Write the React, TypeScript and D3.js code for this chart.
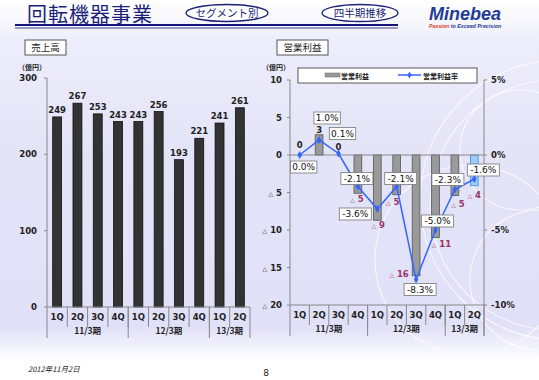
import React from "react";
import * as d3 from "d3";

const quarters = ["1Q", "2Q", "3Q", "4Q", "1Q", "2Q", "3Q", "4Q", "1Q", "2Q"];
const periods = [
  { label: "11/3期", start: 0, count: 4 },
  { label: "12/3期", start: 4, count: 4 },
  { label: "13/3期", start: 8, count: 2 },
];
const sales = [249, 267, 253, 243, 243, 256, 193, 221, 241, 261];
const salesTicks = [0, 100, 200, 300];
const opIncome = [0, 2.7, 0, -5.1, -8.7, -5.3, -16.1, -11.0, -5.4, -4.1];
const opMargin = [0.0, 1.0, 0.1, -2.1, -3.6, -2.1, -8.3, -5.0, -2.3, -1.6];
const incomeTicks = [10, 5, 0, -5, -10, -15, -20];
const marginTicks = [5, 0, -5, -10];

// label placement offsets (px) for the right chart
const marginLabelOffsets = [
  [4, 12], [8, -22], [4, -20], [-1, -8], [-22, 5],
  [4, -8], [4, 10], [2, -9], [-7, -10], [9, -9],
];
const incomeLabelOffsets = [
  [0, -10], [0, -5], [0, -8], [-1, 6], [1, 5],
  [-4, 7], [-17, -2], [6, 6], [3, 8], [0, 9],
];

const JP = "'Noto Sans CJK JP', 'DejaVu Sans', sans-serif";
const NUM = "'DejaVu Sans', Verdana, sans-serif";

function Tri({ v, size }: { v: number; size: number }) {
  if (v < 0)
    return (
      <>
        <tspan fontSize={size * 0.7}>△</tspan>
        <tspan> {Math.abs(v)}</tspan>
      </>
    );
  return <>{v}</>;
}

function XAxis({ x, y0, x0, x1 }: any) {
  const step = x.step();
  const sepY2 = y0 + 20;
  const grpY2 = y0 + 31;
  return (
    <g fontFamily={NUM} fontWeight="bold" fontSize={8.5} fill="#222">
      <line x1={x0} x2={x1} y1={y0} y2={y0} stroke="#888" />
      {quarters.map((q, i) => (
        <text key={i} x={x0 + step * (i + 0.5)} y={y0 + 13} textAnchor="middle">
          {q}
        </text>
      ))}
      {d3.range(1, quarters.length).map((i) => (
        <line key={i} x1={x0 + step * i} x2={x0 + step * i} y1={y0} y2={sepY2} stroke="#888" />
      ))}
      {periods.map((p, k) => (
        <g key={k}>
          <line
            x1={x0 + step * (p.start + p.count)}
            x2={x0 + step * (p.start + p.count)}
            y1={y0}
            y2={grpY2}
            stroke="#888"
          />
          <text
            x={x0 + step * (p.start + p.count / 2)}
            y={y0 + 27}
            textAnchor="middle"
            fontFamily={JP}
            fontSize={8.5}
          >
            {p.label}
          </text>
        </g>
      ))}
      <line x1={x0} x2={x0} y1={y0} y2={grpY2} stroke="#888" />
    </g>
  );
}

export default function App() {
  const W = 539, H = 380;

  // left chart
  const lx0 = 47, lx1 = 250;
  const lx = d3.scaleBand<number>().domain(d3.range(10)).range([lx0, lx1]).paddingInner(0.56).paddingOuter(0.28);
  const ly = d3.scaleLinear().domain([0, 300]).range([307, 78]);

  // right chart
  const rx0 = 290, rx1 = 484;
  const rx = d3.scaleBand<number>().domain(d3.range(10)).range([rx0, rx1]).paddingInner(0.6).paddingOuter(0.3);
  const ry = d3.scaleLinear().domain([-20, 10]).range([305, 80]);
  const ryr = d3.scaleLinear().domain([-10, 5]).range([305, 80]);
  const cx = (i: number) => (rx(i) as number) + rx.bandwidth() / 2;

  const line = d3
    .line<number>()
    .x((_, i) => cx(i))
    .y((d) => ryr(d));

  return (
    <svg width={W} height={H} style={{ position: "absolute", left: 0, top: 0 }}>
      <defs>
        <linearGradient id="bg" x1="0" y1="0" x2="0" y2="1">
          <stop offset="0" stopColor="#ffffff" />
          <stop offset="0.12" stopColor="#ececfb" />
          <stop offset="0.4" stopColor="#e4e4f8" />
          <stop offset="0.86" stopColor="#e0e0f8" />
          <stop offset="0.95" stopColor="#ffffff" />
          <stop offset="1" stopColor="#ffffff" />
        </linearGradient>
      </defs>
      <rect width={W} height={H} fill="url(#bg)" />
      {/* decorative arcs */}
      <g fill="none" stroke="#ffffff" strokeOpacity={0.7} strokeWidth={1.2}>
        <circle cx={560} cy={200} r={140} />
        <circle cx={555} cy={205} r={125} />
        <circle cx={540} cy={280} r={70} />
        <circle cx={520} cy={150} r={60} />
        <circle cx={470} cy={260} r={95} />
      </g>

      {/* header */}
      <text x={27} y={22} fontFamily={JP} fontSize={20} fill="#1a1f78" letterSpacing={1}>
        回転機器事業
      </text>
      <line x1={15} x2={398} y1={25} y2={25} stroke="#12127a" strokeWidth={2.2} />
      <line x1={15} x2={398} y1={28} y2={28} stroke="#12127a" strokeWidth={0.8} />
      <ellipse cx={227} cy={13} rx={41} ry={8.5} fill="#fff" stroke="#1a1f78" strokeWidth={1.3} />
      <text x={227} y={17} textAnchor="middle" fontFamily={JP} fontSize={10.5} fill="#1a1f78">
        セグメント別
      </text>
      <ellipse cx={360} cy={13} rx={38} ry={8.5} fill="#fff" stroke="#1a1f78" strokeWidth={1.3} />
      <text x={360} y={17} textAnchor="middle" fontFamily={JP} fontSize={10.5} fill="#1a1f78">
        四半期推移
      </text>
      <text x={429} y={20} fontFamily="'Liberation Sans', Arial, sans-serif" fontWeight="bold" fontStyle="italic" fontSize={18} fill="#1f3c96">
        Minebea
      </text>
      <text x={429} y={28} fontFamily="'Liberation Sans', Arial, sans-serif" fontWeight="bold" fontStyle="italic" fontSize={5.3}>
        <tspan fill="#e03a1e">Passion</tspan>
        <tspan fill="#1f3c96"> to Exceed Precision</tspan>
      </text>

      {/* sub headers */}
      <rect x={25} y={40} width={41} height={15} fill="#fff" stroke="#555" />
      <text x={45.5} y={51} textAnchor="middle" fontFamily={JP} fontSize={9.5} fill="#222">
        売上高
      </text>
      <rect x={277} y={40} width={51} height={15} fill="#fff" stroke="#555" />
      <text x={302.5} y={51} textAnchor="middle" fontFamily={JP} fontSize={9.5} fill="#222">
        営業利益
      </text>

      {/* LEFT CHART */}
      <text x={18} y={70} fontFamily={JP} fontSize={7} fontWeight="bold" fill="#222">
        （億円）
      </text>
      <line x1={lx0} x2={lx0} y1={ly(300)} y2={ly(0)} stroke="#888" />
      {salesTicks.map((t) => (
        <g key={t}>
          <line x1={lx0 - 3} x2={lx0} y1={ly(t)} y2={ly(t)} stroke="#888" />
          <text x={37} y={ly(t) + 3} textAnchor="end" fontFamily={NUM} fontWeight="bold" fontSize={8.5} fill="#222">
            {t}
          </text>
        </g>
      ))}
      {sales.map((v, i) => (
        <g key={i}>
          <rect x={lx(i)} y={ly(v)} width={lx.bandwidth()} height={ly(0) - ly(v)} fill="#333" stroke="#111" strokeWidth={0.8} />
          <text x={(lx(i) as number) + lx.bandwidth() / 2} y={ly(v) - 4} textAnchor="middle" fontFamily={NUM} fontWeight="bold" fontSize={8.5} fill="#222">
            {v}
          </text>
        </g>
      ))}
      <XAxis x={lx} y0={ly(0)} x0={lx0} x1={lx1} />

      {/* RIGHT CHART */}
      <text x={262} y={70} fontFamily={JP} fontSize={7} fontWeight="bold" fill="#222">
        （億円）
      </text>
      <line x1={rx0} x2={rx0} y1={ry(10)} y2={ry(-20)} stroke="#888" />
      <line x1={rx1} x2={rx1} y1={ry(10)} y2={ry(-20) + 31} stroke="#888" />
      {incomeTicks.map((t) => (
        <g key={t}>
          <line x1={rx0 - 3} x2={rx0} y1={ry(t)} y2={ry(t)} stroke="#888" />
          <text x={282} y={ry(t) + 3} textAnchor="end" fontFamily={NUM} fontWeight="bold" fontSize={8.5} fill="#222">
            <Tri v={t} size={8.5} />
          </text>
        </g>
      ))}
      {marginTicks.map((t) => (
        <g key={t}>
          <line x1={rx1} x2={rx1 + 3} y1={ryr(t)} y2={ryr(t)} stroke="#888" />
          <text x={491} y={ryr(t) + 3} fontFamily={NUM} fontWeight="bold" fontSize={8.5} fill="#222">
            {t}%
          </text>
        </g>
      ))}
      {opIncome.map((v, i) => {
        const last = i === opIncome.length - 1;
        return (
          <rect
            key={i}
            x={rx(i)}
            y={Math.min(ry(v), ry(0))}
            width={rx.bandwidth()}
            height={Math.abs(ry(v) - ry(0))}
            fill={last ? "#9dcbf5" : "#9a9a9a"}
            stroke={last ? "#3d8fe0" : "#555"}
            strokeWidth={0.8}
          />
        );
      })}
      <line x1={rx0} x2={rx1} y1={ry(0)} y2={ry(0)} stroke="#888" />
      <XAxis x={rx} y0={ry(-20)} x0={rx0} x1={rx1} />

      {opIncome.map((v, i) => {
        const r = Math.round(v);
        const [dx, dy] = incomeLabelOffsets[i];
        return (
          <text
            key={i}
            x={cx(i) + dx}
            y={ry(v) + dy + 3}
            textAnchor="middle"
            fontFamily={NUM}
            fontWeight="bold"
            fontSize={8.5}
            fill={r < 0 ? "#993366" : "#222"}
          >
            <Tri v={r} size={8.5} />
          </text>
        );
      })}

      <path d={line(opMargin) || ""} fill="none" stroke="#3366ff" strokeWidth={1.5} />
      {opMargin.map((m, i) => (
        <path key={i} d={d3.symbol(d3.symbolDiamond, 18)() || ""} transform={`translate(${cx(i)},${ryr(m)})`} fill="#3366ff" />
      ))}
      {opMargin.map((m, i) => {
        const [dx, dy] = marginLabelOffsets[i];
        const t = `${m.toFixed(1)}%`;
        const w = t.length * 5.6 + 4;
        const x = cx(i) + dx, y = ryr(m) + dy;
        return (
          <g key={i}>
            <rect x={x - w / 2} y={y - 6} width={w} height={12} fill="#fff" stroke="#777" strokeWidth={0.8} />
            <text x={x} y={y + 3.3} textAnchor="middle" fontFamily={NUM} fontSize={9} fill="#111">
              {t}
            </text>
          </g>
        );
      })}

      {/* legend */}
      <rect x={298} y={68} width={179} height={15} fill="#fff" stroke="#333" strokeWidth={0.8} />
      <rect x={325} y={73} width={15} height={4} fill="#9a9a9a" stroke="#666" strokeWidth={0.5} />
      <text x={341} y={78.5} fontFamily={JP} fontSize={7} fontWeight="bold" fill="#222">
        営業利益
      </text>
      <line x1={398} x2={421} y1={75} y2={75} stroke="#3366ff" strokeWidth={1.5} />
      <path d={d3.symbol(d3.symbolDiamond, 14)() || ""} transform="translate(409.5,75)" fill="#3366ff" />
      <text x={423} y={78.5} fontFamily={JP} fontSize={7} fontWeight="bold" fill="#222">
        営業利益率
      </text>

      {/* footer */}
      <text x={28} y={372} fontFamily={JP} fontStyle="italic" fontSize={7.5} fill="#222">
        2012年11月2日
      </text>
      <text x={266} y={376} textAnchor="middle" fontFamily={NUM} fontSize={9} fill="#222">
        8
      </text>
    </svg>
  );
}
